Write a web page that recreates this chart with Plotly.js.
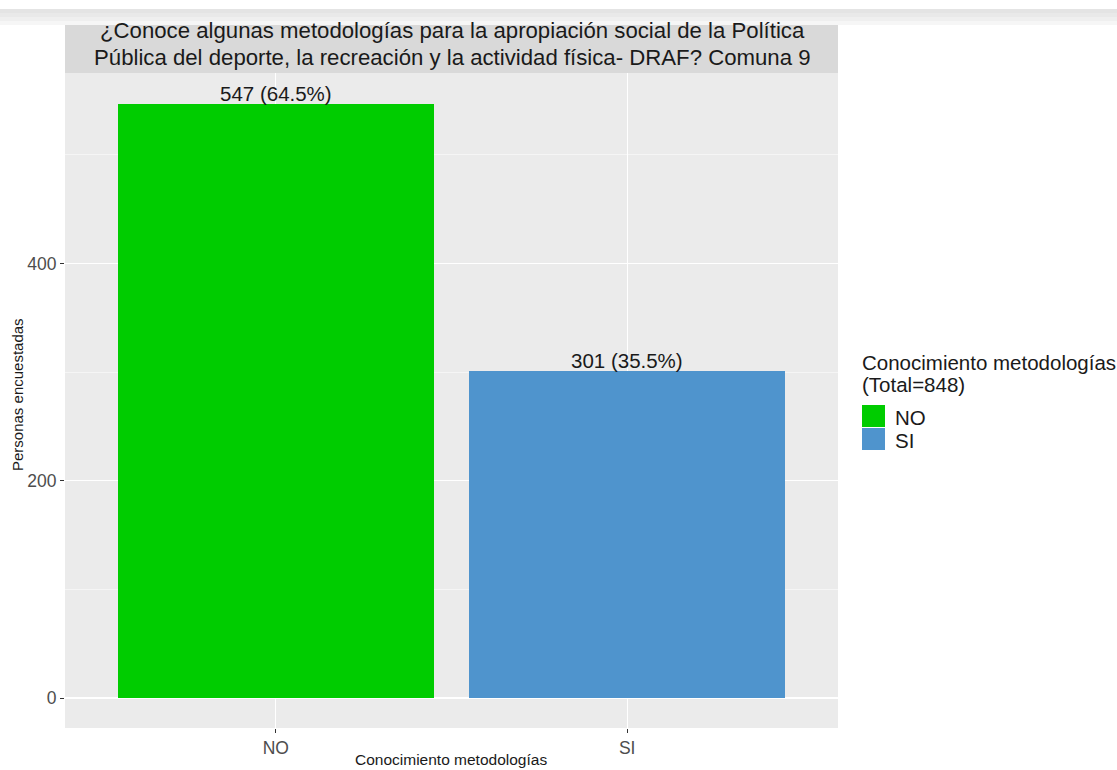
<!DOCTYPE html>
<html>
<head>
<meta charset="utf-8">
<script src="https://cdn.plot.ly/plotly-3.0.1.min.js"></script>
<style>html,body{margin:0;padding:0;background:#fff;}#chart{width:1117px;height:770px;}</style>
</head>
<body>
<div id="chart"></div>
<script>
const categories = ["NO", "SI"];
const counts = [547, 301];
const percents = ["64.5%", "35.5%"];
const colors = ["#00CC00", "#4F94CD"];
const titleLines = [
  "¿Conoce algunas metodologías para la apropiación social de la Política",
  "Pública del deporte, la recreación y la actividad física- DRAF? Comuna 9"
];
const xTitle = "Conocimiento metodologías";
const yTitle = "Personas encuestadas";
const legendTitleLines = ["Conocimiento metodologías", "(Total=848)"];
const yTickVals = [0, 200, 400];
const yMinorVals = [100, 300, 500];

const W = 1117, H = 770;
const M = {l: 65, r: 279, t: 73, b: 42};
const PW = W - M.l - M.r, PH = H - M.t - M.b;
const px = x => (x - M.l) / PW;
const py = y => (H - M.b - y) / PH;

const FONT = "Liberation Sans, Arial, sans-serif";

const trace = {
  type: "bar",
  x: categories,
  y: counts,
  width: 0.9,
  marker: {color: colors, line: {width: 0}},
  showlegend: false,
  hoverinfo: "x+y"
};

const annotations = [];
categories.forEach((c, i) => {
  annotations.push({
    x: c, y: counts[i], xref: "x", yref: "y",
    text: counts[i] + " (" + percents[i] + ")",
    showarrow: false, yanchor: "bottom", yshift: -3,
    font: {family: FONT, size: 20.5, color: "#1a1a1a"}
  });
});
// title in strip
const titleY = [31, 57];
titleLines.forEach((t, i) => annotations.push({
  x: px(452), y: py(titleY[i]), xref: "paper", yref: "paper",
  text: t, showarrow: false, xanchor: "center", yanchor: "middle",
  font: {family: FONT, size: 22.2, color: "#1a1a1a"}
}));
// axis titles
annotations.push({
  x: px(18), y: py(395), xref: "paper", yref: "paper",
  text: yTitle, showarrow: false, textangle: -90, xanchor: "center", yanchor: "middle",
  font: {family: FONT, size: 15, color: "#1a1a1a"}
});
annotations.push({
  x: px(451), y: py(759), xref: "paper", yref: "paper",
  text: xTitle, showarrow: false, xanchor: "center", yanchor: "middle",
  font: {family: FONT, size: 15.5, color: "#1a1a1a"}
});
// legend
const legY = [362, 384];
legendTitleLines.forEach((t, i) => annotations.push({
  x: px(860), y: py(legY[i]), xref: "paper", yref: "paper",
  text: t, showarrow: false, xanchor: "left", yanchor: "middle", align: "left",
  font: {family: FONT, size: 20.5, color: "#1a1a1a"}
}));
const shapes = [];
// strip
shapes.push({type: "rect", xref: "paper", yref: "paper", x0: 0, x1: 1, y0: 1, y1: py(16),
  fillcolor: "#d9d9d9", line: {width: 0}, layer: "below"});
// top grey fading band
const band = [["#e4e4e4", 9, 13], ["#e9e9e9", 13, 17], ["#efefef", 17, 21], ["#f6f6f6", 21, 25]];
band.forEach(b => shapes.push({type: "rect", xref: "paper", yref: "paper",
  x0: px(0), x1: px(W), y0: py(b[2]), y1: py(b[1]), fillcolor: b[0], line: {width: 0}, layer: "below"}));
categories.forEach((c, i) => {
  const top = 405 + i * 23;
  shapes.push({type: "rect", xref: "paper", yref: "paper",
    x0: px(862), x1: px(885), y0: py(top + 22), y1: py(top), fillcolor: colors[i], line: {width: 0}});
  annotations.push({
    x: px(893), y: py(top + 12), xref: "paper", yref: "paper",
    text: c, showarrow: false, xanchor: "left", yanchor: "middle",
    font: {family: FONT, size: 20.5, color: "#1a1a1a"}
  });
});

const layout = {
  width: W, height: H,
  margin: M,
  paper_bgcolor: "#ffffff",
  plot_bgcolor: "#ebebeb",
  showlegend: false,
  bargap: 0,
  xaxis: {
    range: [-0.6, 1.6],
    type: "category",
    showgrid: true, gridcolor: "#ffffff", gridwidth: 1.1,
    ticks: "outside", ticklen: 4, tickcolor: "#333333", tickwidth: 1,
    tickfont: {family: FONT, size: 17.5, color: "#4d4d4d"},
    showline: false, zeroline: false, fixedrange: true
  },
  yaxis: {
    range: [-27.6, 575.3],
    tickvals: yTickVals,
    showgrid: true, gridcolor: "#ffffff", gridwidth: 1.1,
    minor: {tickvals: yMinorVals, showgrid: true, gridcolor: "#ffffff", gridwidth: 0.5, ticks: ""},
    ticks: "outside", ticklen: 4, tickcolor: "#333333", tickwidth: 1,
    tickfont: {family: FONT, size: 17.5, color: "#4d4d4d"},
    showline: false, zeroline: false, fixedrange: true
  },
  annotations: annotations,
  shapes: shapes
};

Plotly.newPlot("chart", [trace], layout, {displayModeBar: false, staticPlot: true});
</script>
</body>
</html>
